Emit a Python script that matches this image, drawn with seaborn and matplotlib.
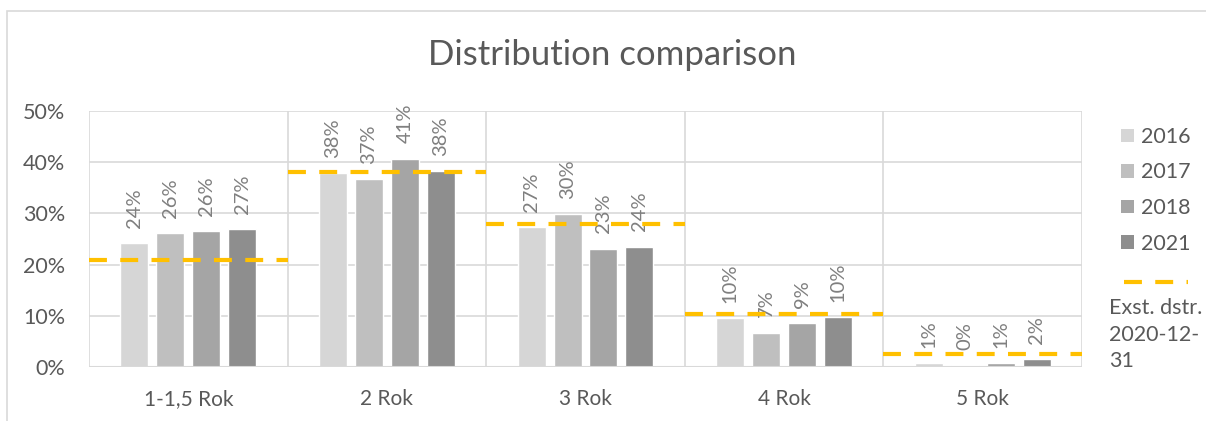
import matplotlib
matplotlib.use("Agg")
import matplotlib.pyplot as plt
import seaborn as sns
import pandas as pd
from matplotlib.patches import Rectangle, Patch
from matplotlib.lines import Line2D

categories = ["1-1,5 Rok", "2 Rok", "3 Rok", "4 Rok", "5 Rok"]
years = ["2016", "2017", "2018", "2021"]
v2016 = [24.2, 37.8, 27.3, 9.6, 0.7]
v2017 = [26.1, 36.7, 29.8, 6.7, 0.4]
v2018 = [26.5, 40.7, 23.1, 8.6, 0.7]
v2021 = [26.9, 38.2, 23.5, 9.7, 1.5]
dstr = [20.9, 38.0, 27.9, 10.4, 2.6]
dstr_label = "Exst. dstr.\n2020-12-\n31"
title = "Distribution comparison"

colors = ["#d6d6d6", "#bfbfbf", "#a5a5a5", "#8e8e8e"]
dash_color = "#ffc000"
text_color = "#595959"
label_color = "#7f7f7f"
grid_color = "#d9d9d9"

sns.set_theme(style="white")
plt.rcParams["font.family"] = ["Lato", "DejaVu Sans"]

rows = []
for y, vals in zip(years, [v2016, v2017, v2018, v2021]):
    for c, v in zip(categories, vals):
        rows.append({"cat": c, "year": y, "val": v})
df = pd.DataFrame(rows)

fig = plt.figure(figsize=(12.06, 4.21), dpi=100)
ax = fig.add_axes([89 / 1206, 1 - 367 / 421, (1082 - 89) / 1206, (367 - 111) / 421])

sns.barplot(data=df, x="cat", y="val", hue="year", palette=colors,
            width=0.724, gap=0.22, ax=ax, legend=False, errorbar=None,
            saturation=1)

ax.set_ylim(0, 50)
ax.set_xlim(-0.5, len(categories) - 0.5)
ax.set_yticks([0, 10, 20, 30, 40, 50])
ax.set_yticklabels([f"{t}%" for t in [0, 10, 20, 30, 40, 50]])
ax.set_xlabel("")
ax.set_ylabel("")
ax.tick_params(axis="both", length=0, colors=text_color)
ax.tick_params(axis="y", pad=17, labelsize=15.5)
ax.tick_params(axis="x", pad=16, labelsize=15)

for t in [10, 20, 30, 40, 50]:
    ax.axhline(t, color=grid_color, lw=1.2, zorder=0)
for b in [i - 0.5 for i in range(len(categories) + 1)]:
    ax.axvline(b, color=grid_color, lw=1.2, zorder=0)
for s in ax.spines.values():
    s.set_visible(False)
ax.axhline(0, color=grid_color, lw=1.5, zorder=3)

for cont in ax.containers:
    for bar in cont:
        h = bar.get_height()
        ax.annotate(f"{h:.0f}%", (bar.get_x() + bar.get_width() / 2, h),
                    xytext=(0, 11), textcoords="offset points",
                    rotation=90, ha="center", va="bottom",
                    color=label_color, fontsize=14.5, annotation_clip=False)

for i, d in enumerate(dstr):
    ax.plot([i - 0.5, i + 0.5], [d, d], color=dash_color, lw=3,
            dashes=(4.3, 3.2), zorder=4, solid_capstyle="butt",
            dash_capstyle="butt")

fig.text(612 / 1206, 1 - 55 / 421, title, ha="center", va="center",
         fontsize=25, color=text_color)

handles = [Patch(facecolor=c, edgecolor="none") for c in colors]
leg = fig.legend(handles, years, loc="upper left",
                 bbox_to_anchor=(1121 / 1206, 1 - 127 / 421),
                 frameon=False, fontsize=15.5, handlelength=0.6,
                 handleheight=0.6, handletextpad=0.35, labelspacing=0.72,
                 labelcolor=text_color, borderpad=0, borderaxespad=0)

fig.add_artist(Line2D([1124 / 1206, 1188 / 1206], [1 - 282 / 421, 1 - 282 / 421],
                      color=dash_color, lw=3, dashes=(4.3, 3.2)))
fig.text(1109 / 1206, 1 - 298 / 421, dstr_label, ha="left", va="top",
         fontsize=15.5, color=text_color, linespacing=1.42)

fig.add_artist(Rectangle((7 / 1206, -5 / 421), 1.2, 1 - 6 / 421,
                         transform=fig.transFigure, fill=False,
                         edgecolor="#d9d9d9", lw=1.2))

fig.savefig("out.png", dpi=100)
